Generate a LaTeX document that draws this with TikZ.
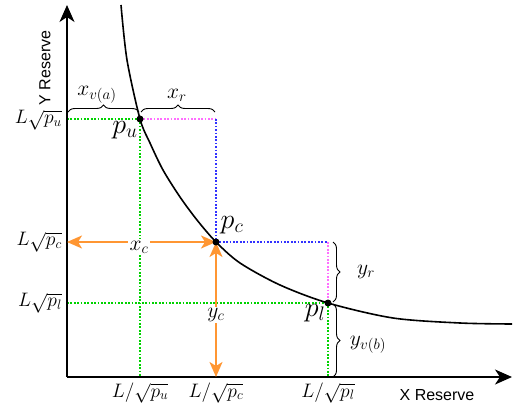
\documentclass[tikz,border=0pt]{standalone}
\usepackage{fontspec}
\newfontfamily\axisfont{Liberation Sans}
\DeclareFontShape{OML}{cmm}{m}{it}{<-8.5> cmmi7 <8.5-11> cmmi10 <11-> cmmi12}{\skewchar\font=127 }
\DeclareFontShape{OMS}{cmsy}{m}{n}{<-8.5> cmsy7 <8.5-> cmsy10}{\skewchar\font=48 }
\DeclareFontShape{OMX}{cmex}{m}{n}{<-> cmex10}{}
\DeclareFontShape{OT1}{cmr}{m}{n}{<-8.5> cmr7 <8.5-11> cmr10 <11-> cmr12}{}
\usetikzlibrary{arrows.meta,decorations.pathreplacing}
\definecolor{dgreen}{RGB}{0,210,0}
\definecolor{dmag}{RGB}{255,110,255}
\definecolor{dblue}{RGB}{50,50,255}
\definecolor{dorange}{RGB}{255,150,50}
\tikzset{
  axisline/.style={line width=1.8pt,-{Stealth[length=17pt,width=15pt,inset=5pt]}},
  curveline/.style={line width=1.6pt},
  gdot/.style={line width=1.7pt,dash pattern=on 1.7pt off 1.7pt},
  green dots/.style={gdot,dgreen},
  mag dots/.style={gdot,dmag},
  blue dots/.style={gdot,dblue},
  orangearrow/.style={line width=1.8pt,dorange,{Stealth[length=15pt,width=13pt,inset=4pt]}-{Stealth[length=15pt,width=13pt,inset=4pt]}},
  ptdot/.style={circle,fill=black,inner sep=0pt,minimum size=7pt},
  tick/.style={font=\fontsize{19.5}{23}\selectfont,inner sep=1pt},
  lbl/.style={font=\fontsize{21.5}{25}\selectfont,inner sep=1pt},
  plbl/.style={font=\fontsize{28}{31}\selectfont,inner sep=1pt},
  wlbl/.style={lbl,fill=white,inner sep=1.5pt},
  bracestyle/.style={decorate,decoration={brace,amplitude=7pt},line width=0.9pt},
}
\begin{document}
\begin{tikzpicture}[x=1pt,y=-1pt]
\useasboundingbox (0,0) rectangle (521,406);
% named coordinates
\coordinate (O) at (67,377);
\coordinate (ytop) at (67,5);
\coordinate (xend) at (512,377);
\coordinate (pu) at (140,119);
\coordinate (pc) at (216,242);
\coordinate (pl) at (328,303);
\coordinate (yu) at (67,119);
\coordinate (yc) at (67,242);
\coordinate (yl) at (67,303);
\coordinate (xu) at (140,377);
\coordinate (xc) at (216,377);
\coordinate (xl) at (328,377);
\coordinate (ur) at (216,119);
\coordinate (cr) at (328,242);
% dotted guides
\draw[green dots] (yu) -- (pu);
\draw[green dots] (pu) -- (xu);
\draw[green dots] (yl) -- (pl);
\draw[green dots] (pl) -- (xl);
\draw[mag dots] (pu) -- (ur);
\draw[mag dots] (cr) -- (pl);
\draw[blue dots] (ur) -- (pc);
\draw[blue dots] (pc) -- (cr);
% curve
\draw[curveline] plot[smooth,tension=0.5] coordinates {(121,5) (127,60) (pu) (150,143) (163,170) (180,197) (197,220) (pc) (240,263) (280,285) (pl) (393,318) (460,323) (512,324)};
% axes
\draw[axisline] (O) -- (ytop);
\draw[axisline] (O) -- (xend);
% orange arrows
\draw[orangearrow] (yc) -- (pc);
\draw[orangearrow] (xc) -- (pc);
\node[wlbl] (xclbl) at (139,247) {$x_c$};
\node[wlbl] (yclbl) at (216,315) {$y_c$};
% points
\node[ptdot] (pudot) at (pu) {};
\node[ptdot] (pcdot) at (pc) {};
\node[ptdot] (pldot) at (pl) {};
\node[plbl] (pulbl) at (125,130) {$p_u$};
\node[plbl] (pclbl) at (232,225) {$p_c$};
\node[plbl] (pllbl) at (315,313) {$p_l$};
% braces
\draw[bracestyle] (68,112) -- (139,112);
\draw[bracestyle] (141,112) -- (215,112);
\draw[bracestyle] (333,242) -- (333,302);
\draw[bracestyle] (333,304) -- (333,377);
\node[lbl] (xva) at (97,95) {$x_{v(a)}$};
\node[lbl] (xr) at (177,95) {$x_r$};
\node[lbl] (yr) at (366,272) {$y_r$};
\node[lbl] (yvb) at (368,345) {$y_{v(b)}$};
% tick labels
\node[tick,anchor=east] (tu) at (63,120) {$L\sqrt{p_u}$};
\node[tick,anchor=east] (tc) at (63,242) {$L\sqrt{p_c}$};
\node[tick,anchor=east] (tl) at (63,303) {$L\sqrt{p_l}$};
\node[tick] (bu) at (140,393) {$L/\sqrt{p_u}$};
\node[tick] (bc) at (216,393) {$L/\sqrt{p_c}$};
\node[tick] (bl) at (328,393) {$L/\sqrt{p_l}$};
% axis titles
\node[font=\axisfont\fontsize{16}{18}\selectfont] (xt) at (437,395) {X Reserve};
\node[font=\axisfont\fontsize{16}{18}\selectfont,rotate=90] (yt) at (45,68) {Y Reserve};
\end{tikzpicture}
\end{document}
